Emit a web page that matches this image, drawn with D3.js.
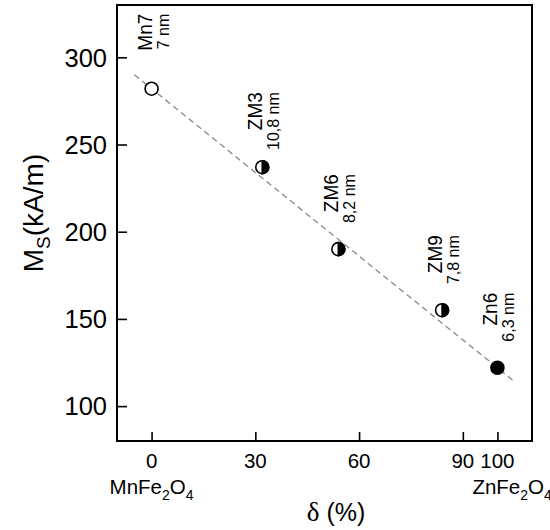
<!DOCTYPE html>
<html>
<head>
<meta charset="utf-8">
<script src="https://cdn.jsdelivr.net/npm/d3@7"></script>
<style>
  body { margin: 0; background: #fff; }
  svg { display: block; font-family: "Liberation Sans", Arial, sans-serif; }
</style>
</head>
<body>
<svg id="chart" width="550" height="530"></svg>
<script>
// ---- data ----
const names   = ["Mn7", "ZM3", "ZM6", "ZM9", "Zn6"];
const sizes   = ["7 nm", "10,8 nm", "8,2 nm", "7,8 nm", "6,3 nm"];
const delta   = [0, 32, 54, 84, 100];
const ms      = [282, 237, 190, 155, 122];
const fills   = ["open", "half", "half", "half", "full"];
const fitX    = [-5, 105];
const fitY    = [290, 114];
const xTicks  = [0, 30, 60, 90, 100];
const yTicks  = [100, 150, 200, 250, 300];

const svg = d3.select("#chart");
const x = d3.scaleLinear().domain([-10, 110]).range([117, 532]);
const y = d3.scaleLinear().domain([80, 330]).range([441, 5]);

// axes with inward ticks
const xAxis = d3.axisBottom(x).tickValues(xTicks).tickSize(-9).tickSizeOuter(0).tickFormat("");
const yAxis = d3.axisLeft(y).tickValues(yTicks).tickSize(-10).tickSizeOuter(0).tickFormat("");

const gx = svg.append("g").attr("transform", `translate(0,${y.range()[0]})`).call(xAxis);
const gy = svg.append("g").attr("transform", `translate(${x.range()[0]},0)`).call(yAxis);
[gx, gy].forEach(g => {
  g.select(".domain").remove();
  g.selectAll(".tick line").attr("stroke", "#000").attr("stroke-width", 1.6);
});

// frame
svg.append("rect")
  .attr("x", x.range()[0]).attr("y", y.range()[1])
  .attr("width", x.range()[1] - x.range()[0])
  .attr("height", y.range()[0] - y.range()[1])
  .attr("fill", "none").attr("stroke", "#000").attr("stroke-width", 2);

// tick labels
svg.append("g").selectAll("text").data(xTicks).join("text")
  .attr("x", d => x(d)).attr("y", 468)
  .attr("text-anchor", "middle").attr("font-size", 20.5)
  .text(d => d);
svg.append("g").selectAll("text").data(yTicks).join("text")
  .attr("x", 107).attr("y", d => y(d)).attr("dy", "0.36em")
  .attr("text-anchor", "end").attr("font-size", 25.5)
  .text(d => d);

// fit line
svg.append("line")
  .attr("x1", x(fitX[0])).attr("y1", y(fitY[0]))
  .attr("x2", x(fitX[1])).attr("y2", y(fitY[1]))
  .attr("stroke", "#888").attr("stroke-width", 1.3)
  .attr("stroke-dasharray", "6,4");

// markers
const r = 6.5;
const pts = svg.append("g").selectAll("g").data(delta.map((d, i) => i)).join("g")
  .attr("transform", i => `translate(${x(delta[i])},${y(ms[i])})`);
pts.append("circle").attr("r", r)
  .attr("fill", i => fills[i] === "full" ? "#000" : "#fff")
  .attr("stroke", "#000").attr("stroke-width", 1.6);
pts.filter(i => fills[i] === "half").append("path")
  .attr("d", `M0,${-r} A${r},${r} 0 0 1 0,${r} Z`)
  .attr("fill", "#000").attr("stroke", "#000").attr("stroke-width", 1.6);

// point labels (rotated)
const lab = svg.append("g").selectAll("g").data(delta.map((d, i) => i)).join("g");
lab.append("text")
  .attr("transform", i => `translate(${x(delta[i]) + 0},${y(ms[i]) - 75}) scale(1.08,1) rotate(-90)`)
  .attr("text-anchor", "end").attr("font-size", 19)
  .text(i => names[i]);
lab.append("text")
  .attr("transform", i => `translate(${x(delta[i]) + 17},${y(ms[i]) - 75}) scale(1.08,1) rotate(-90)`)
  .attr("text-anchor", "end").attr("font-size", 16)
  .text(i => sizes[i]);

// compound labels under axis
function formula(xPos, anchor, parts) {
  const t = svg.append("text").attr("x", xPos).attr("y", 494)
    .attr("text-anchor", anchor).attr("font-size", 20.5);
  parts.forEach(p => {
    if (p.sub) {
      t.append("tspan").attr("font-size", 14).attr("dy", 6).text(p.t);
    } else {
      t.append("tspan").attr("dy", p.back ? -6 : 0).text(p.t);
    }
  });
}
formula(x(0), "middle", [{t: "MnFe"}, {t: "2", sub: true}, {t: "O", back: true}, {t: "4", sub: true}]);
formula(x(100) - 25, "start", [{t: "ZnFe"}, {t: "2", sub: true}, {t: "O", back: true}, {t: "4", sub: true}]);

// axis titles
const xt = svg.append("text").attr("x", 336).attr("y", 521)
  .attr("text-anchor", "middle").attr("font-size", 25);
xt.append("tspan").attr("font-family", "Liberation Serif, serif").attr("font-size", 27).text("δ");
xt.append("tspan").text(" (%)");

const yt = svg.append("text")
  .attr("transform", "translate(43,213) rotate(-90)")
  .attr("text-anchor", "middle").attr("font-size", 28);
yt.append("tspan").text("M");
yt.append("tspan").attr("font-size", 19).attr("dy", 7).text("S");
yt.append("tspan").attr("dy", -7).text("(kA/m)");
</script>
</body>
</html>
